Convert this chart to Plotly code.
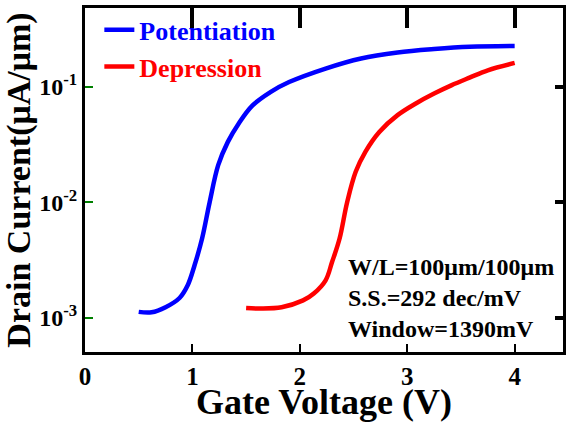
import plotly.graph_objects as go

pot_v = [0.50, 0.62, 0.75, 0.88, 0.956, 1.02, 1.09, 1.16, 1.24, 1.33, 1.43, 1.56, 1.73, 1.90, 2.24, 2.57, 2.91, 3.25, 3.58, 4.00]
pot_i = [1.13e-3, 1.12e-3, 1.24e-3, 1.49e-3, 1.92e-3, 2.86e-3, 4.87e-3, 1.0e-2, 2.1e-2, 3.34e-2, 4.8e-2, 6.9e-2, 9.05e-2, 0.110, 0.144, 0.176, 0.198, 0.212, 0.222, 0.226]

dep_v = [1.50, 1.63, 1.83, 2.03, 2.13, 2.24, 2.30, 2.37, 2.44, 2.52, 2.61, 2.74, 2.91, 3.08, 3.25, 3.41, 3.58, 3.75, 4.00]
dep_i = [1.22e-3, 1.21e-3, 1.24e-3, 1.42e-3, 1.63e-3, 2.12e-3, 3.05e-3, 4.87e-3, 1.0e-2, 1.84e-2, 2.74e-2, 4.07e-2, 5.69e-2, 7.18e-2, 8.75e-2, 0.103, 0.120, 0.139, 0.161]

x_ticks = [0, 1, 2, 3, 4]
y_ticks = [1e-3, 1e-2, 1e-1]
y_ticktext = ["<b>10<sup>-3</sup></b>", "<b>10<sup>-2</sup></b>", "<b>10<sup>-1</sup></b>"]
notes = ["W/L=100μm/100μm", "S.S.=292 dec/mV", "Window=1390mV"]

FONT = "Liberation Serif"
INK = "#000000"
X_RANGE = [0, 4.45]
Y_RANGE = [-3.294, -0.318]

fig = go.Figure()
fig.add_trace(go.Scatter(x=pot_v, y=pot_i, mode="lines", line=dict(color="#0000FF", width=4.5, shape="spline"),
                         name="<b><span style='color:#0000FF'>Potentiation</span></b>"))
fig.add_trace(go.Scatter(x=dep_v, y=dep_i, mode="lines", line=dict(color="#FF0000", width=4.5, shape="spline"),
                         name="<b><span style='color:#FF0000'>Depression</span></b>"))
fig.add_trace(go.Scatter(x=pot_v, y=pot_i, xaxis="x3", yaxis="y3", mode="lines",
                         line=dict(width=0, color="rgba(0,0,0,0)"), showlegend=False, hoverinfo="skip"))

fig.add_annotation(xref="paper", yref="paper", x=0.546, y=0.292, xanchor="left", yanchor="top",
                   text="<b>" + "<br>".join(notes) + "</b>", showarrow=False, align="left",
                   font=dict(family=FONT, size=24, color=INK))

fig.update_layout(
    width=569, height=422, margin=dict(l=85, r=3, t=8, b=70),
    paper_bgcolor="white", plot_bgcolor="white",
    xaxis=dict(range=X_RANGE, tickmode="array", tickvals=x_ticks, ticktext=["<b>%d</b>" % v for v in x_ticks],
               tickfont=dict(family=FONT, size=25, color=INK),
               title=dict(text="<b>Gate Voltage (V)</b>", font=dict(family=FONT, size=36, color=INK), standoff=0),
               showline=True, linecolor=INK, linewidth=3, mirror=True,
               ticks="inside", ticklen=8, tickwidth=2, tickcolor=INK, showgrid=False, zeroline=False),
    yaxis=dict(type="log", range=Y_RANGE, tickmode="array", tickvals=y_ticks, ticktext=y_ticktext,
               tickfont=dict(family=FONT, size=24, color=INK),
               title=dict(text="<b>Drain Current(μA/μm)</b>", font=dict(family=FONT, size=34, color=INK), standoff=4),
               showline=True, linecolor=INK, linewidth=3, mirror=True,
               ticks="inside", ticklen=8, tickwidth=2, tickcolor="green", showgrid=False, zeroline=False),
    xaxis3=dict(range=X_RANGE, overlaying="x", side="top", anchor="y3", tickmode="array", tickvals=x_ticks,
                showticklabels=False, ticks="inside", ticklen=20, tickwidth=4, tickcolor=INK,
                showgrid=False, zeroline=False),
    yaxis3=dict(type="log", range=Y_RANGE, overlaying="y", side="right", anchor="x3", tickmode="array",
                tickvals=y_ticks, showticklabels=False, ticks="inside", ticklen=8, tickwidth=4, tickcolor=INK,
                showgrid=False, zeroline=False),
    legend=dict(x=0.03, y=1.005, xanchor="left", yanchor="top", bgcolor="rgba(0,0,0,0)",
                font=dict(family=FONT, size=26), tracegroupgap=0, itemwidth=30),
    showlegend=True)

fig.write_html("out.html")
